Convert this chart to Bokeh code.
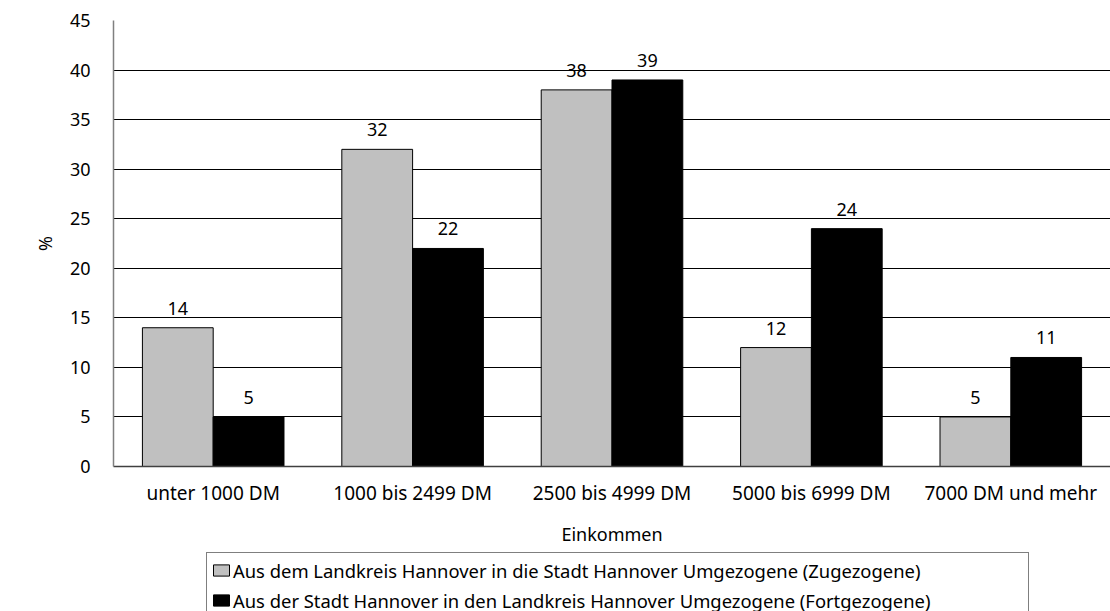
from bokeh.plotting import figure
from bokeh.layouts import column
from bokeh.models import ColumnDataSource, FactorRange, Range1d, Legend, LegendItem, SingleIntervalTicker
from bokeh.transform import dodge
from bokeh.core.properties import value
from bokeh.embed import file_html
from bokeh.resources import INLINE

categories = ["unter 1000 DM", "1000 bis 2499 DM", "2500 bis 4999 DM", "5000 bis 6999 DM", "7000 DM und mehr"]
zugezogene = [14, 32, 38, 12, 5]
fortgezogene = [5, 22, 39, 24, 11]
series_names = [
    "Aus dem Landkreis Hannover in die Stadt Hannover Umgezogene (Zugezogene)",
    "Aus der Stadt Hannover in den Landkreis Hannover Umgezogene (Fortgezogene)",
]
x_title = "Einkommen"
y_title = "%"

FONT = "Noto Sans"
FS = "18px"
FS_X = "19px"
FS_LEG = "18.4px"
GRAY = "#C0C0C0"

src = ColumnDataSource(data=dict(
    cat=categories,
    zu=zugezogene,
    fort=fortgezogene,
    zu_lbl=[str(v) for v in zugezogene],
    fort_lbl=[str(v) for v in fortgezogene],
))

p = figure(
    x_range=FactorRange(*categories, range_padding=0),
    y_range=Range1d(0, 45),
    width=1110, height=548,
    output_backend="svg", toolbar_location=None,
    min_border_left=113, min_border_right=0, min_border_top=20, min_border_bottom=82,
)
p.outline_line_color = None
p.background_fill_color = "white"
p.border_fill_color = "white"

bw = 0.355
p.vbar(x=dodge("cat", -bw / 2, range=p.x_range), top="zu", width=bw, source=src,
       fill_color=GRAY, line_color="black", line_width=1)
p.vbar(x=dodge("cat", bw / 2, range=p.x_range), top="fort", width=bw, source=src,
       fill_color="black", line_color="black", line_width=1)

p.text(x=dodge("cat", -bw / 2, range=p.x_range), y="zu", text="zu_lbl", source=src,
       text_align="center", text_baseline="bottom", y_offset=-13,
       text_font=value(FONT), text_font_size=FS, text_color="black")
p.text(x=dodge("cat", bw / 2, range=p.x_range), y="fort", text="fort_lbl", source=src,
       text_align="center", text_baseline="bottom", y_offset=-13,
       text_font=value(FONT), text_font_size=FS, text_color="black")

# grid
p.xgrid.grid_line_color = None
p.ygrid.grid_line_color = "black"
p.ygrid.grid_line_width = 1
p.yaxis.ticker = SingleIntervalTicker(interval=5)

# axes
for ax in (p.xaxis, p.yaxis):
    ax.major_tick_line_color = None
    ax.minor_tick_line_color = None
    ax.major_label_text_font = FONT
    ax.major_label_text_color = "black"
    ax.axis_label_text_font = FONT
    ax.axis_label_text_font_size = FS
    ax.axis_label_text_font_style = "normal"
    ax.axis_label_text_color = "black"

p.yaxis.major_label_text_font_size = FS
p.yaxis.axis_line_color = "#808080"
p.yaxis.axis_line_width = 1.5
p.yaxis.major_label_standoff = 17
p.yaxis.axis_label = y_title
p.yaxis.axis_label_standoff = 10

p.xaxis.major_label_text_font_size = FS_X
p.xaxis.axis_line_color = "#404040"
p.xaxis.axis_line_width = 1.5
p.xaxis.major_label_standoff = 7
p.xaxis.axis_label = x_title
p.xaxis.axis_label_standoff = 13

# legend figure below the chart (frames are aligned with the chart above)
lf = figure(
    x_range=Range1d(0, 1), y_range=Range1d(0, 1),
    width=1110, height=63,
    output_backend="svg", toolbar_location=None,
    x_axis_type=None, y_axis_type=None,
    min_border_left=0, min_border_right=0, min_border_top=0, min_border_bottom=0,
)
lf.outline_line_color = None
lf.xgrid.grid_line_color = None
lf.ygrid.grid_line_color = None
lr1 = lf.vbar(x=[-10], top=[-10], width=0.1, fill_color=GRAY, line_color="black", line_width=1)
lr2 = lf.vbar(x=[-10], top=[-10], width=0.1, fill_color="black", line_color="black", line_width=1)

legend = Legend(
    items=[LegendItem(label=series_names[0], renderers=[lr1]),
           LegendItem(label=series_names[1], renderers=[lr2])],
    location=(93, -7),
    orientation="vertical",
    label_text_font=FONT, label_text_font_size=FS_LEG, label_text_color="black",
    glyph_width=20, glyph_height=14, label_standoff=2,
    label_width=791, label_height=26, spacing=4, padding=4, margin=0,
    border_line_color="black", border_line_width=1,
    background_fill_color="white", background_fill_alpha=1,
)
lf.add_layout(legend)

layout = column(p, lf, spacing=0)
open("out.html", "w").write(file_html(layout, INLINE))
